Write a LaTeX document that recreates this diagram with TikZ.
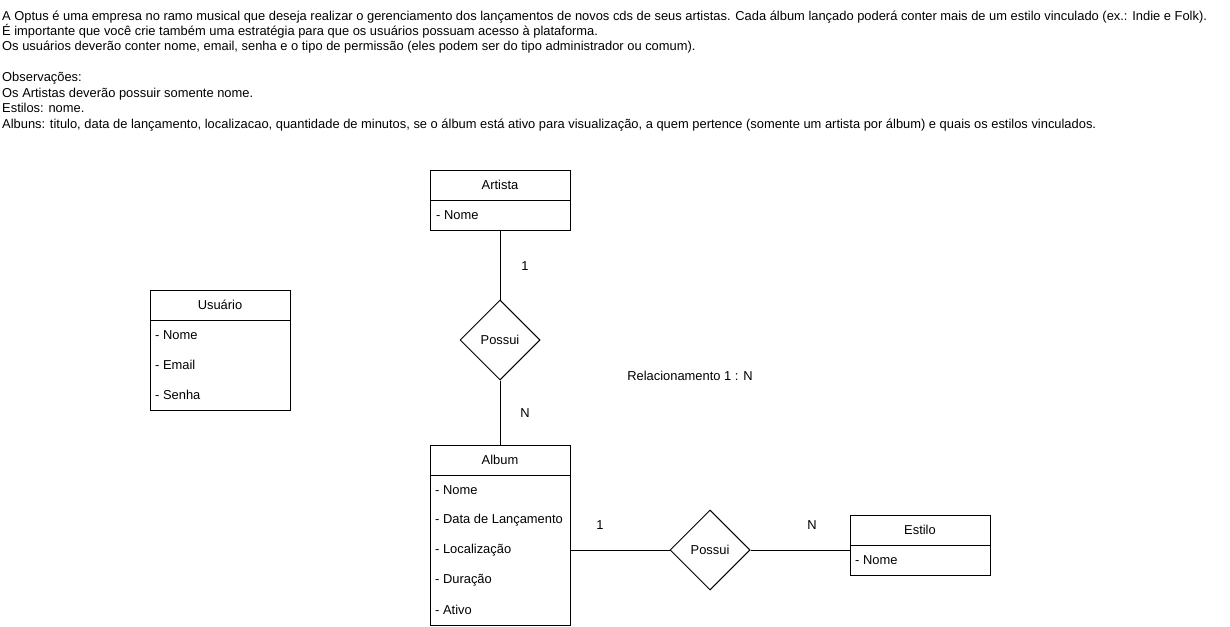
\documentclass[tikz,border=0pt]{standalone}
\usepackage{fontspec}
\setmainfont{Liberation Sans}
\usetikzlibrary{shapes.geometric}
\begin{document}
\begin{tikzpicture}[x=1pt,y=-1pt,
  every node/.style={font=\fontsize{12.9}{15}\selectfont, inner sep=0pt},
  line/.style={line width=1pt, draw=black},
  txt/.style={anchor=base west},
  entbox/.style={line, rectangle, minimum width=140pt},
  rel/.style={line, diamond, minimum width=80pt, minimum height=80pt, inner sep=0pt},
  attr/.style={anchor=west},
  lbl/.style={anchor=center}]
\useasboundingbox (0,0) rectangle (1230,626);
% description text
\node[txt] (t1) at (2,20.5) {A Optus é uma empresa no ramo musical que deseja realizar o gerenciamento dos lançamentos de novos cds de seus artistas. Cada álbum lançado poderá conter mais de um estilo vinculado (ex.: Indie e Folk).};
\node[txt] (t2) at (2,35.5) {É importante que você crie também uma estratégia para que os usuários possuam acesso à plataforma.};
\node[txt] (t3) at (2,50.5) {Os usuários deverão conter nome, email, senha e o tipo de permissão (eles podem ser do tipo administrador ou comum).};
\node[txt] (t4) at (2,81.5) {Observações:};
\node[txt] (t5) at (2,97) {Os Artistas deverão possuir somente nome.};
\node[txt] (t6) at (2,112.5) {Estilos: nome.};
\node[txt] (t7) at (2,128.5) {Albuns: titulo, data de lançamento, localizacao, quantidade de minutos, se o álbum está ativo para visualização, a quem pertence (somente um artista por álbum) e quais os estilos vinculados.};
% Artista
\node[entbox, minimum height=60pt] (artista) at (500,200) {};
\draw[line] (430,200) -- (570,200);
\node[lbl] (artT) at (500,185) {Artista};
\node[attr] (artA) at (436,215) {- Nome};
% Usuario
\node[entbox, minimum height=120pt] (usuario) at (220,350) {};
\draw[line] (150,320) -- (290,320);
\node[lbl] (usuT) at (220,305) {Usuário};
\node[attr] (usu1) at (155,335) {- Nome};
\node[attr] (usu2) at (155,365) {- Email};
\node[attr] (usu3) at (155,395) {- Senha};
% Album
\node[entbox, minimum height=180pt] (album) at (500,535) {};
\draw[line] (430,475) -- (570,475);
\node[lbl] (albT) at (500,460) {Album};
\node[attr] (alb1) at (435,490) {- Nome};
\node[attr] (alb2) at (435,520) {- Data de Lançamento};
\node[attr] (alb3) at (435,550) {- Localização};
\node[attr] (alb4) at (435,580) {- Duração};
\node[attr] (alb5) at (435,610) {- Ativo};
% Estilo
\node[entbox, minimum height=60pt] (estilo) at (920,545) {};
\draw[line] (850,545) -- (990,545);
\node[lbl] (estT) at (920,530) {Estilo};
\node[attr] (est1) at (855,560) {- Nome};
% relationships
\node[rel] (d1) at (500,340) {Possui};
\node[rel] (d2) at (710,550) {Possui};
\draw[line] (artista.south) -- (d1.north);
\draw[line] (d1.south) -- (album.north);
\draw[line] (album.east |- d2.west) -- (d2.west);
\draw[line] (d2.east) -- (estilo.west |- d2.east);
% labels
\node[lbl] (c1) at (525,266) {1};
\node[lbl] (c2) at (525,413) {N};
\node[lbl] (rn) at (690,376) {Relacionamento 1 : N};
\node[lbl] (c3) at (600,525) {1};
\node[lbl] (c4) at (812,525) {N};
\end{tikzpicture}
\end{document}
